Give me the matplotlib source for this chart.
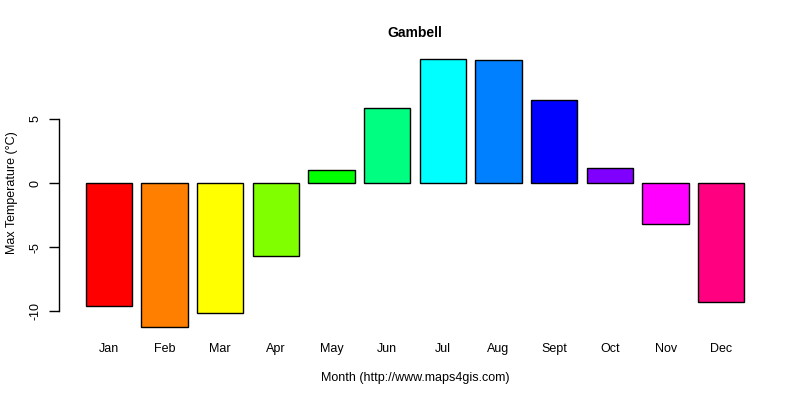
import matplotlib as mpl
mpl.use('Agg')
import matplotlib.pyplot as plt
import numpy as np

plt.rcParams['font.family'] = ['Liberation Sans', 'DejaVu Sans']

months = ["Jan", "Feb", "Mar", "Apr", "May", "Jun", "Jul", "Aug", "Sept", "Oct", "Nov", "Dec"]
maxTemp = [-9.6, -11.2, -10.1, -5.7, 1.0, 5.85, 9.67, 9.6, 6.47, 1.15, -3.2, -9.3]
colors = ["#FF0000", "#FF8000", "#FFFF00", "#80FF00", "#00FF00", "#00FF80",
          "#00FFFF", "#0080FF", "#0000FF", "#8000FF", "#FF00FF", "#FF0080"]

# R barplot layout: width 1, space 0.2
x = 0.7 + 1.2 * np.arange(len(months))

fig = plt.figure(figsize=(8, 4), dpi=100)
ax = fig.add_axes([0.074, 0.1565, 0.8895, 0.7225])
ax.bar(x, maxTemp, width=1.0, color=colors, edgecolor='black', linewidth=1)

xlo, xhi = 0.2, x[-1] + 0.5
xpad = 0.04 * (xhi - xlo)
ax.set_xlim(xlo - xpad, xhi + xpad)
ylo, yhi = min(maxTemp), max(maxTemp)
ypad = 0.04 * (yhi - ylo)
ax.set_ylim(ylo - ypad, yhi + ypad)

for s in ['top', 'right', 'bottom']:
    ax.spines[s].set_visible(False)
ax.spines['left'].set_bounds(-10, 5)
ax.spines['left'].set_linewidth(1)

ax.set_yticks([-10, -5, 0, 5])
ax.set_yticklabels(["-10", "-5", "0", "5"], rotation=90, va='center', fontsize=9)
ax.tick_params(axis='y', length=7, width=1, pad=6)
ax.set_xticks(x)
ax.set_xticklabels(months, fontsize=9)
ax.tick_params(axis='x', length=0, pad=4)

ax.set_xlabel("Month (http://www.maps4gis.com)", fontsize=9, labelpad=12)
ax.set_ylabel("Max Temperature (°C)", fontsize=9, labelpad=8)
ax.set_title("Gambell", fontsize=10, fontweight='bold', pad=8)

fig.savefig("out.png", dpi=100)
